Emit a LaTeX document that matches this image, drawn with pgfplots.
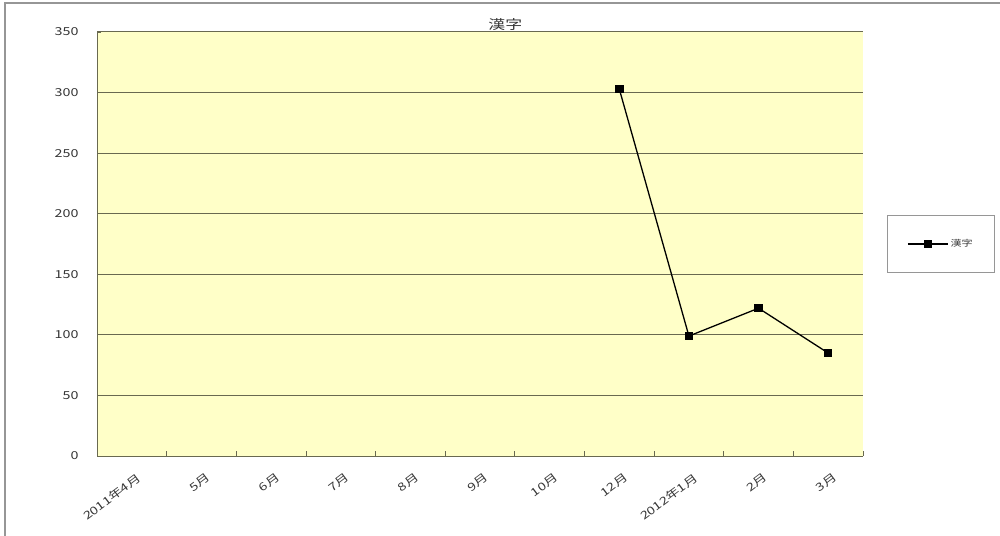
\documentclass[border=0pt]{standalone}
\usepackage{pgfplots}
\pgfplotsset{compat=1.18}
\usepackage{fontspec}
\setmainfont[FakeStretch=1.3]{Noto Sans CJK JP}
\definecolor{plotbg}{RGB}{255,255,200}
\definecolor{gridc}{RGB}{105,105,80}
\definecolor{framec}{RGB}{150,150,150}
\definecolor{txt}{RGB}{55,55,55}

\begin{document}
\begin{tikzpicture}
\useasboundingbox (0pt,0pt) rectangle (1000pt,535pt);
\fill[white] (0pt,0pt) rectangle (1000pt,535pt);
% outer chart frame
\draw[framec, line width=1.5pt] (5pt,-10pt) -- (5pt,532pt) -- (1010pt,532pt);
\begin{axis}[
  at={(97pt,79pt)}, anchor=south west,
  width=766pt, height=424pt, scale only axis,
  xmin=-0.5, xmax=10.5, ymin=0, ymax=350,
  ytick={0,50,...,350},
  xtick={0,...,10},
  xticklabels={2011年4月,5月,6月,7月,8月,9月,10月,12月,2012年1月,2月,3月},
  minor xtick={-0.5,0.5,...,10.5},
  axis x line*=bottom, axis y line*=left,
  axis line style={gridc, line width=1pt, -},
  tick align=inside,
  xtick align=inside,
  major x tick style={draw=none},
  minor tick length=5pt,
  major tick length=4pt,
  tick style={gridc, line width=0.8pt},
  ymajorgrids,
  grid style={gridc, line width=1pt},
  axis background/.style={fill=plotbg},
  title={漢字},
  title style={font=\fontsize{13}{15}\selectfont, text=txt, at={(0.533,1)}, anchor=center, yshift=1pt},
  yticklabel style={font=\fontsize{11}{13}\selectfont, text=txt, xshift=-15pt},
  xticklabel style={font=\fontsize{11}{13}\selectfont, text=txt, rotate=37, anchor=north east, yshift=-12pt, xshift=-3pt},
  /pgf/number format/assume math mode=true,
  legend style={at={(1.031,0.5)}, anchor=west, draw=framec, line width=1pt,
    font=\fontsize{8.5}{10}\selectfont, text=txt, inner xsep=20pt, inner ysep=22pt},
  legend image code/.code={\draw[mark repeat=2,mark phase=2] plot coordinates {(0pt,0pt) (20pt,0pt) (40pt,0pt)};},
]
\addplot[black, line width=1.3pt, mark=square*, mark size=3.6pt, mark options={solid, black}]
  coordinates {(7,303) (8,99) (9,122) (10,85)};
\addlegendentry{漢字}
\end{axis}
\end{tikzpicture}
\end{document}
